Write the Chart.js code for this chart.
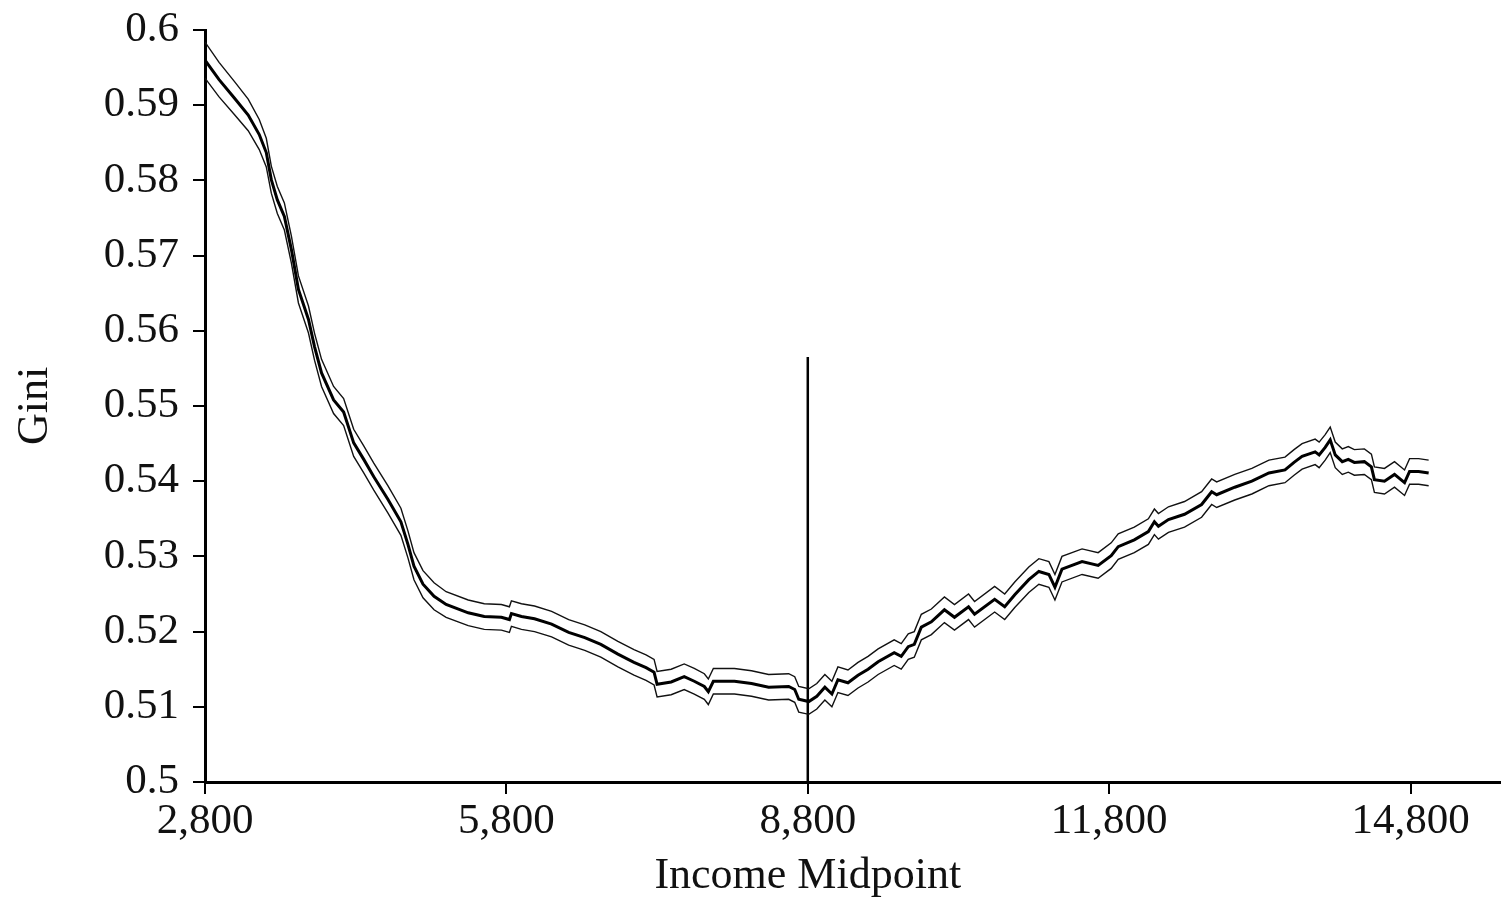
<!DOCTYPE html>
<html>
<head>
<meta charset="utf-8">
<script src="https://cdn.jsdelivr.net/npm/chart.js@4/dist/chart.umd.min.js"></script>
<style>
  html, body { margin: 0; padding: 0; background: #fff; }
  #wrap { width: 1501px; height: 900px; position: relative; }
</style>
</head>
<body>
<div id="wrap"><canvas id="giniChart"></canvas></div>
<script>
// income midpoints (x)
const incomeMid = [2800, 2940, 3090, 3230, 3340, 3410, 3460, 3520, 3590, 3660, 3730, 3830, 3890, 3960, 4080, 4180,
  4280, 4380, 4480, 4620, 4750, 4820, 4880, 4970, 5080, 5200, 5420, 5580, 5750, 5830, 5850, 5950, 6080, 6250, 6420,
  6580, 6740, 6910, 7070, 7190, 7270, 7300, 7440, 7570, 7670, 7770, 7810, 7860, 8070, 8240, 8410, 8610, 8670, 8710,
  8810, 8890, 8970, 9040, 9100, 9200, 9300, 9400, 9500, 9660, 9730, 9800, 9860, 9930, 10030, 10160, 10260, 10400,
  10460, 10660, 10760, 10860, 11000, 11100, 11200, 11260, 11330, 11530, 11690, 11820, 11890, 12050, 12190, 12250,
  12290, 12390, 12550, 12720, 12820, 12870, 13050, 13220, 13390, 13550, 13640, 13720, 13850, 13890, 13950, 14000,
  14050, 14120, 14180, 14240, 14340, 14410, 14440, 14540, 14640, 14740, 14790, 14880, 14980];

// Gini estimate
const gini = [0.5960, 0.5934, 0.5910, 0.5887, 0.5861, 0.5837, 0.5801, 0.5774, 0.5752, 0.5708, 0.5655, 0.5615, 0.5579,
  0.5544, 0.5508, 0.5492, 0.5451, 0.5429, 0.5406, 0.5376, 0.5346, 0.5316, 0.5287, 0.5263, 0.5247, 0.5236, 0.5225,
  0.5220, 0.5219, 0.5216, 0.5224, 0.5220, 0.5217, 0.5210, 0.5199, 0.5192, 0.5183, 0.5170, 0.5159, 0.5152, 0.5146,
  0.5130, 0.5133, 0.5140, 0.5134, 0.5127, 0.5120, 0.5134, 0.5134, 0.5131, 0.5126, 0.5127, 0.5123, 0.5110, 0.5107,
  0.5114, 0.5126, 0.5117, 0.5136, 0.5132, 0.5142, 0.5150, 0.5160, 0.5172, 0.5167, 0.5180, 0.5183, 0.5206, 0.5213,
  0.5229, 0.5219, 0.5233, 0.5223, 0.5243, 0.5233, 0.5249, 0.5269, 0.5280, 0.5276, 0.5259, 0.5283, 0.5293, 0.5288,
  0.5301, 0.5313, 0.5322, 0.5333, 0.5346, 0.5340, 0.5349, 0.5356, 0.5369, 0.5386, 0.5382, 0.5392, 0.5400, 0.5411,
  0.5415, 0.5425, 0.5433, 0.5439, 0.5435, 0.5445, 0.5455, 0.5435, 0.5426, 0.5429, 0.5425, 0.5426, 0.5419, 0.5402,
  0.5400, 0.5409, 0.5398, 0.5413, 0.5413, 0.5411];

// upper confidence band
const giniUpper = [0.5984, 0.5957, 0.5932, 0.5908, 0.5881, 0.5856, 0.5819, 0.5792, 0.5770, 0.5726, 0.5673, 0.5633,
  0.5597, 0.5562, 0.5526, 0.5510, 0.5469, 0.5447, 0.5424, 0.5394, 0.5364, 0.5334, 0.5305, 0.5281, 0.5265, 0.5253,
  0.5242, 0.5237, 0.5236, 0.5233, 0.5241, 0.5237, 0.5234, 0.5227, 0.5216, 0.5209, 0.5200, 0.5187, 0.5176, 0.5169,
  0.5163, 0.5147, 0.5150, 0.5157, 0.5151, 0.5144, 0.5137, 0.5151, 0.5151, 0.5148, 0.5143, 0.5144, 0.5140, 0.5127,
  0.5124, 0.5131, 0.5143, 0.5134, 0.5153, 0.5149, 0.5159, 0.5167, 0.5177, 0.5189, 0.5184, 0.5197, 0.5200, 0.5223,
  0.5230, 0.5246, 0.5236, 0.5250, 0.5240, 0.5260, 0.5250, 0.5266, 0.5286, 0.5297, 0.5293, 0.5276, 0.5300, 0.5310,
  0.5305, 0.5318, 0.5330, 0.5339, 0.5350, 0.5363, 0.5357, 0.5366, 0.5373, 0.5386, 0.5403, 0.5399, 0.5409, 0.5417,
  0.5428, 0.5432, 0.5442, 0.5450, 0.5456, 0.5452, 0.5462, 0.5472, 0.5452, 0.5443, 0.5446, 0.5442, 0.5443, 0.5436,
  0.5419, 0.5417, 0.5426, 0.5415, 0.5430, 0.5430, 0.5428];

// lower confidence band
const giniLower = [0.5936, 0.5911, 0.5888, 0.5866, 0.5841, 0.5818, 0.5783, 0.5756, 0.5734, 0.5690, 0.5637, 0.5597,
  0.5561, 0.5526, 0.5490, 0.5474, 0.5433, 0.5411, 0.5388, 0.5358, 0.5328, 0.5298, 0.5269, 0.5245, 0.5229, 0.5219,
  0.5208, 0.5203, 0.5202, 0.5199, 0.5207, 0.5203, 0.5200, 0.5193, 0.5182, 0.5175, 0.5166, 0.5153, 0.5142, 0.5135,
  0.5129, 0.5113, 0.5116, 0.5123, 0.5117, 0.5110, 0.5103, 0.5117, 0.5117, 0.5114, 0.5109, 0.5110, 0.5106, 0.5093,
  0.5090, 0.5097, 0.5109, 0.5100, 0.5119, 0.5115, 0.5125, 0.5133, 0.5143, 0.5155, 0.5150, 0.5163, 0.5166, 0.5189,
  0.5196, 0.5212, 0.5202, 0.5216, 0.5206, 0.5226, 0.5216, 0.5232, 0.5252, 0.5263, 0.5259, 0.5242, 0.5266, 0.5276,
  0.5271, 0.5284, 0.5296, 0.5305, 0.5316, 0.5329, 0.5323, 0.5332, 0.5339, 0.5352, 0.5369, 0.5365, 0.5375, 0.5383,
  0.5394, 0.5398, 0.5408, 0.5416, 0.5422, 0.5418, 0.5428, 0.5438, 0.5418, 0.5409, 0.5412, 0.5408, 0.5409, 0.5402,
  0.5385, 0.5383, 0.5392, 0.5381, 0.5396, 0.5396, 0.5394];

// vertical marker at 8,800
const markerX = [8800, 8800];
const markerY = [0.5, 0.5565];

const xTicks = [2800, 5800, 8800, 11800, 14800];

const serif = "'Liberation Serif', 'Times New Roman', serif";

function pts(xs, ys) {
  return xs.map((x, i) => ({ x: x, y: ys[i] }));
}

// x axis title, centred under the tick range like the original
const xTitlePlugin = {
  id: 'xTitle',
  afterDraw(chart) {
    const c = chart.ctx;
    const sx = chart.scales.x;
    const mid = (sx.getPixelForValue(xTicks[0]) + sx.getPixelForValue(xTicks[xTicks.length - 1])) / 2;
    c.save();
    c.font = '44px ' + serif;
    c.fillStyle = '#111';
    c.textAlign = 'center';
    c.textBaseline = 'alphabetic';
    c.fillText('Income Midpoint', mid, 888);
    c.restore();
  }
};

const ctx = document.getElementById('giniChart').getContext('2d');
const giniChart = new Chart(ctx, {
  type: 'line',
  data: {
    datasets: [
      { data: pts(incomeMid, giniUpper), borderColor: '#111', borderWidth: 1.4, pointRadius: 0, fill: false },
      { data: pts(incomeMid, giniLower), borderColor: '#111', borderWidth: 1.4, pointRadius: 0, fill: false },
      { data: pts(incomeMid, gini), borderColor: '#000', borderWidth: 3, pointRadius: 0, fill: false },
      { data: pts(markerX, markerY), borderColor: '#000', borderWidth: 2.5, pointRadius: 0, fill: false }
    ]
  },
  plugins: [xTitlePlugin],
  options: {
    responsive: true,
    maintainAspectRatio: false,
    animation: false,
    layout: { padding: { top: 30, right: 0, bottom: 0, left: 0 } },
    plugins: {
      legend: { display: false },
      tooltip: { enabled: false }
    },
    scales: {
      x: {
        type: 'linear',
        min: 2800,
        max: 15700,
        afterBuildTicks: (scale) => { scale.ticks = xTicks.map(v => ({ value: v })); },
        afterFit: (scale) => { scale.height = 118; },
        border: { color: '#000', width: 3 },
        grid: { drawOnChartArea: false, drawTicks: true, tickLength: 12, color: '#000', lineWidth: 2 },
        ticks: {
          color: '#111',
          padding: 2,
          maxRotation: 0,
          font: { family: serif, size: 43 },
          callback: (v) => Number(v).toLocaleString('en-US')
        }
      },
      y: {
        min: 0.5,
        max: 0.6,
        afterFit: (scale) => { scale.width = 205; scale.paddingTop = 0; scale.paddingBottom = 0; },
        border: { color: '#000', width: 3 },
        grid: { drawOnChartArea: false, drawTicks: true, tickLength: 12, color: '#000', lineWidth: 2 },
        title: {
          display: true,
          text: 'Gini',
          color: '#111',
          padding: { top: 9, bottom: 0 },
          font: { family: serif, size: 44 }
        },
        ticks: {
          stepSize: 0.01,
          color: '#111',
          padding: 14,
          font: { family: serif, size: 43 },
          callback: (v) => String(Math.round(v * 100) / 100)
        }
      }
    }
  }
});
</script>
</body>
</html>
